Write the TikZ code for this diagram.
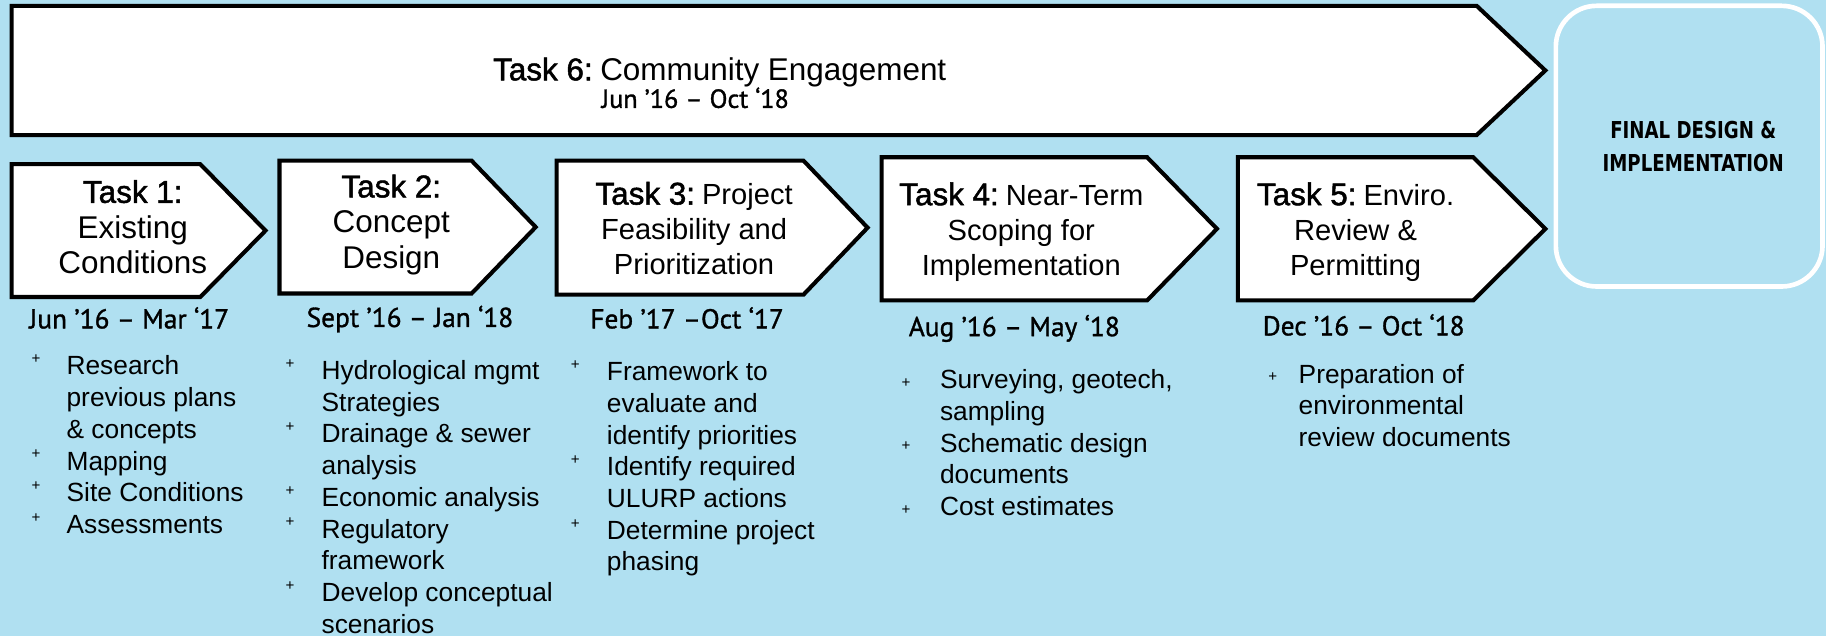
\documentclass[tikz,border=0pt]{standalone}
\usepackage{fontspec}
\setmainfont{Liberation Sans}
\newfontfamily\labelfont[FakeBold=1.5]{Liberation Sans}
\newfontfamily\datefont[FakeBold=1.2]{PT Sans}
\newfontfamily\capsfont[FakeStretch=0.78]{DejaVu Sans}
\usetikzlibrary{calc}
\definecolor{skyback}{RGB}{176,224,241}

% small raised plus used as list bullet
\newcommand{\bul}{\raisebox{0.42em}{\fontsize{13}{13}\selectfont+}}
\newcommand{\lowbul}{\raisebox{0.05em}{\fontsize{13}{13}\selectfont+}}
% heavier "Task n:" lead-in
\newcommand{\tasklab}[1]{{\labelfont\fontsize{27}{30}\selectfont Task #1:}}
% task arrow: left, top, body right, bottom, tip
\newcommand{\taskarrow}[5]{%
  \draw[taskshape] (#1,#2) -- (#3,#2) -- (#5,{(#2+#4)/2}) -- (#3,#4) -- (#1,#4) -- cycle;}

\begin{document}
\begin{tikzpicture}[x=1pt, y=-1pt,
    taskshape/.style={draw=black, fill=white, line width=3.5pt, line join=miter},
    finalbox/.style={draw=white, line width=4pt, rounded corners=35pt},
    tasklabel/.style={align=center, inner sep=0pt, font=\fontsize{25}{30}\selectfont},
    datelabel/.style={inner sep=0pt, font=\datefont\fontsize{23.5}{26}\selectfont},
    listtext/.style={anchor=base west, inner sep=0pt, font=\fontsize{22.6}{27.2}\selectfont},
    finaltext/.style={align=center, inner sep=0pt, font=\capsfont\bfseries\fontsize{20}{28}\selectfont}
]
\useasboundingbox (0,0) rectangle (1568,546);
\fill[skyback] (0,0) rectangle (1568,546);

% arrows
\taskarrow{10}{5}{1268}{116}{1327}
\taskarrow{10}{141}{172}{255}{228}
\taskarrow{240}{138}{405}{252}{460}
\taskarrow{478}{138}{690}{253}{745}
\taskarrow{757}{135}{985}{258}{1045}
\taskarrow{1063}{135}{1265}{258}{1327}
\draw[finalbox] (1336,5) rectangle (1565,246);

% titles
\node[tasklabel, font=\fontsize{27}{30}\selectfont] (t6) at (618,62) {\tasklab{6}\hspace{6.5pt}Community Engagement};
\node[datelabel, font=\datefont\fontsize{22.5}{25}\selectfont] (d6) at (597,84) {Jun ’16 – Oct ‘18};
\node[tasklabel, font=\fontsize{27}{30.5}\selectfont] (t1) at (114,195) {\tasklab{1}\\Existing\\Conditions};
\node[tasklabel, font=\fontsize{27}{30.5}\selectfont] (t2) at (336,193) {\tasklab{2}\\Concept\\Design};
\node[tasklabel] (t3) at (596,196) {\tasklab{3}\hspace{6pt}Project\\Feasibility and\\Prioritization};
\node[tasklabel] (t4) at (877,199) {\tasklab{4}\hspace{6pt}Near-Term\\Scoping for\\Implementation};
\node[tasklabel] (t5) at (1164,199) {\tasklab{5}\hspace{6pt}Enviro.\\Review \&\\Permitting};
\node[finaltext] (final) at (1454,126) {FINAL DESIGN \&\\IMPLEMENTATION};

% dates
\node[datelabel] (d1) at (111,273) {Jun ’16 – Mar ‘17};
\node[datelabel] (d2) at (352,274) {Sept ’16 – Jan ‘18};
\node[datelabel] (d3) at (590,273) {Feb ’17 –Oct ‘17};
\node[datelabel] (d4) at (871,282) {Aug ’16 – May ‘18};
\node[datelabel] (d5) at (1171,279) {Dec ’16 – Oct ‘18};

% lists
\node[listtext] (l1) at (27,322) {\begin{tabular}[t]{@{}p{30pt}@{}l@{}}
\bul & Research\\ & previous plans\\ & \& concepts\\
\bul & Mapping\\ \bul & Site Conditions\\ \bul & Assessments
\end{tabular}};
\node[listtext] (l2) at (245,326) {\begin{tabular}[t]{@{}p{31pt}@{}l@{}}
\bul & Hydrological mgmt\\ & Strategies\\
\bul & Drainage \& sewer\\ & analysis\\
\bul & Economic analysis\\
\bul & Regulatory\\ & framework\\
\bul & Develop conceptual\\ & scenarios
\end{tabular}};
\node[listtext] (l3) at (490,327) {\begin{tabular}[t]{@{}p{31pt}@{}l@{}}
\bul & Framework to\\ & evaluate and\\ & identify priorities\\
\bul & Identify required\\ & ULURP actions\\
\bul & Determine project\\ & phasing
\end{tabular}};
\node[listtext] (l4) at (774,334) {\begin{tabular}[t]{@{}p{33pt}@{}l@{}}
\lowbul & Surveying, geotech,\\ & sampling\\
\lowbul & Schematic design\\ & documents\\
\lowbul & Cost estimates
\end{tabular}};
\node[listtext] (l5) at (1089,329) {\begin{tabular}[t]{@{}p{26pt}@{}l@{}}
\lowbul & Preparation of\\ & environmental\\ & review documents
\end{tabular}};
\end{tikzpicture}
\end{document}
